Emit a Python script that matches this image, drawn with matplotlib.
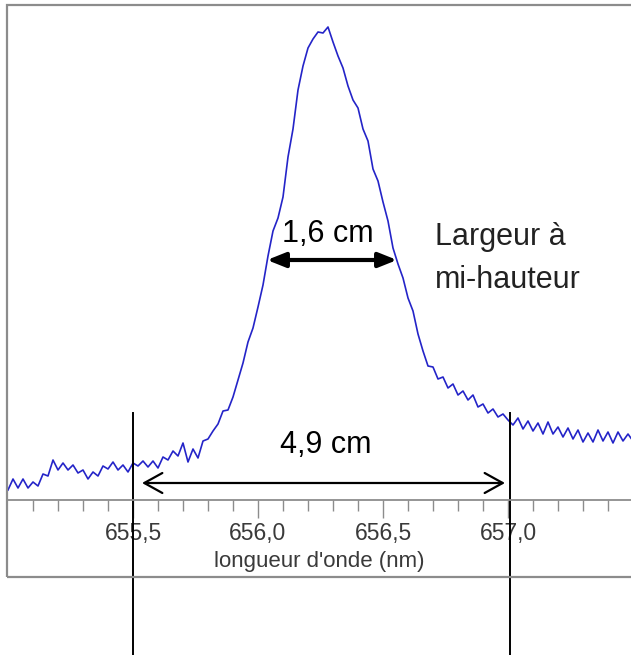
import numpy as np
import matplotlib
matplotlib.use("Agg")
import matplotlib.pyplot as plt
from matplotlib.patches import Rectangle

plt.rcParams['font.family'] = ['Liberation Sans', 'DejaVu Sans']

# ---- data (wavelength in nm, intensity in arbitrary units) ----
wavelength = np.round(655.00 + 0.02 * np.arange(126), 2)
intensity = [
    10, 21, 12, 21, 12, 18, 14, 26, 24, 40,
    30, 37, 30, 35, 27, 30, 21, 28, 24, 34,
    31, 38, 30, 35, 28, 37, 34, 39, 33, 39,
    32, 43, 40, 49, 44, 57, 38, 51, 42, 59,
    61, 69, 76, 89, 90, 103, 120, 137, 158, 172,
    193, 215, 244, 269, 282, 303, 343, 371, 410, 434,
    452, 461, 468, 467, 473, 458, 444, 432, 414, 400,
    392, 371, 359, 331, 319, 298, 279, 252, 236, 222,
    202, 189, 166, 149, 134, 133, 121, 123, 112, 116,
    105, 109, 100, 105, 93, 96, 87, 91, 83, 86,
    80, 75, 82, 71, 79, 69, 77, 66, 78, 66,
    73, 63, 72, 61, 70, 58, 67, 58, 70, 59,
    68, 57, 68, 59, 66, 59,
]
major_ticks = [655.5, 656.0, 656.5, 657.0]
major_labels = ['655,5', '656,0', '656,5', '657,0']
minor_ticks = [655.1, 655.2, 655.3, 655.4, 655.6, 655.7, 655.8, 655.9,
               656.1, 656.2, 656.3, 656.4, 656.6, 656.7, 656.8, 656.9,
               657.1, 657.2, 657.3, 657.4]
xlabel = "longueur d'onde (nm)"

# annotation values (data coords)
fwhm_left, fwhm_right, fwhm_level = 656.036, 656.556, 240
base_left, base_right, base_level = 655.536, 656.988, 17
mark_left, mark_right = 655.5, 657.008

W, H = 631, 655
fig = plt.figure(figsize=(W / 100, H / 100), dpi=100)
ax = fig.add_axes([7 / W, 1 - 500 / H, 1 - 7 / W, (500 - 5) / H])
ax.set_xlim(654.996, 657.492)
ax.set_ylim(0, 495)

# outer frame around plot and labels
frame = Rectangle((7 / W, 1 - 577 / H), 1.2, (577 - 5) / H, transform=fig.transFigure,
                  fill=False, edgecolor='#8c8c8c', linewidth=1.6, zorder=0)
fig.patches.append(frame)

ax.plot(wavelength, intensity, color='#2424c8', linewidth=1.2)

for s in ['left', 'top', 'right']:
    ax.spines[s].set_visible(False)
ax.spines['bottom'].set_color('#8c8c8c')
ax.spines['bottom'].set_linewidth(1.3)

ax.set_yticks([])
ax.set_xticks(major_ticks)
ax.set_xticklabels(major_labels)
ax.set_xticks(minor_ticks, minor=True)
ax.tick_params(axis='x', which='major', direction='out', length=13, width=1,
               color='#8c8c8c', labelsize=16.5, labelcolor='#3a3a3a', pad=3)
ax.tick_params(axis='x', which='minor', direction='out', length=8, width=1,
               color='#8c8c8c')
ax.set_xlabel(xlabel, fontsize=16, color='#3a3a3a', labelpad=4)

# FWHM double arrow
ax.annotate('', xy=(fwhm_left, fwhm_level), xytext=(fwhm_right, fwhm_level),
            arrowprops=dict(arrowstyle='<|-|>,head_length=0.55,head_width=0.22',
                            color='black', lw=3, mutation_scale=20,
                            shrinkA=0, shrinkB=0))
ax.text(656.096, 258, '1,6 cm', fontsize=22, color='black', ha='left', va='baseline')
ax.text(656.708, 255, 'Largeur à', fontsize=22, color='#222222', ha='left', va='baseline')
ax.text(656.708, 212, 'mi-hauteur', fontsize=22, color='#222222', ha='left', va='baseline')

# base width arrow
ax.annotate('', xy=(base_left, base_level), xytext=(base_right, base_level),
            arrowprops=dict(arrowstyle='<->,head_length=0.65,head_width=0.36',
                            color='black', lw=1.6, mutation_scale=20,
                            shrinkA=0, shrinkB=0))
ax.text(656.088, 47, '4,9 cm', fontsize=22, color='black', ha='left', va='baseline')

# vertical markers
for xm in (mark_left, mark_right):
    ax.plot([xm, xm], [87, -160], color='black', linewidth=1.4, clip_on=False)

fig.savefig('out.png', dpi=100)
